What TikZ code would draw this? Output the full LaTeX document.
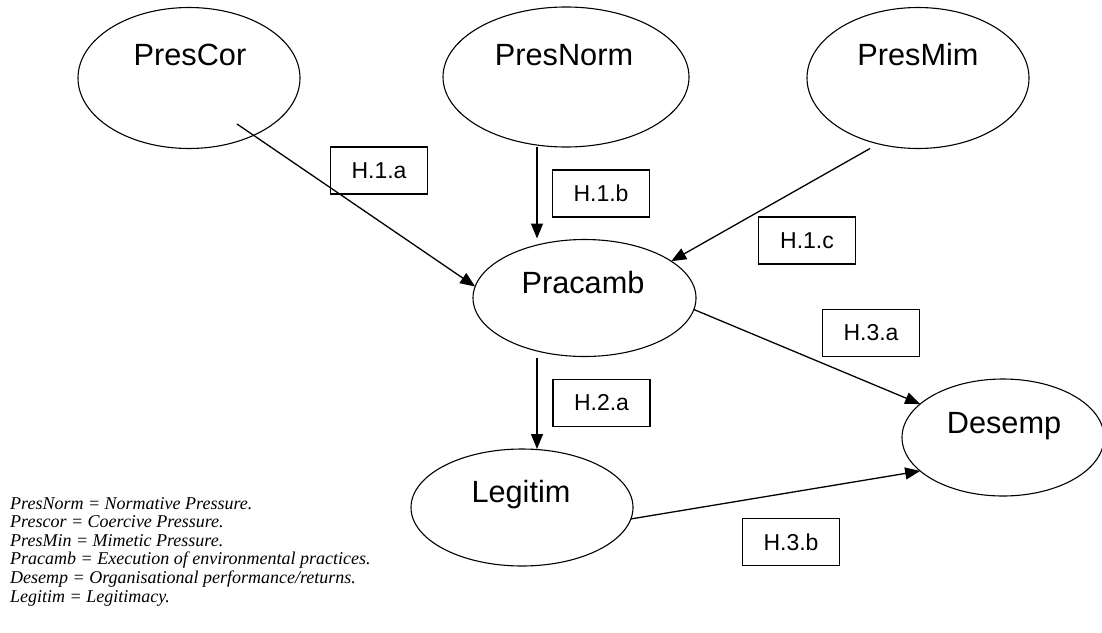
\documentclass[tikz,border=0pt]{standalone}
\usepackage{fontspec}
\setmainfont{Liberation Sans}
\newfontfamily\legfont{Liberation Serif}
\usetikzlibrary{arrows.meta,calc,shapes.geometric}
\begin{document}
\begin{tikzpicture}[x=1pt,y=-1pt,
  var/.style={draw, ellipse, line width=1.1pt, inner sep=0pt, outer sep=0pt},
  vname/.style={anchor=base, inner sep=0pt, font=\fontsize{30.7}{36}\selectfont},
  hbox/.style={draw, line width=1.4pt, inner sep=0pt, outer sep=0pt, minimum width=97pt, minimum height=47pt, font=\fontsize{23}{27}\selectfont},
  arr/.style={line width=1.3pt, -{Triangle[length=15pt,width=12pt]}},
  leg/.style={anchor=base west, inner sep=0pt, font=\legfont\itshape\fontsize{18}{18}\selectfont}
]
\fill[white] (0,0) rectangle (1102,632);
\useasboundingbox (0,0) rectangle (1102,632);

% variables
\node[var, minimum width=222pt, minimum height=141pt] (prescor) at (189,78) {};
\node[var, minimum width=246pt, minimum height=140pt] (presnorm) at (566,77) {};
\node[var, minimum width=222pt, minimum height=141pt] (presmim) at (918,78) {};
\node[var, minimum width=223pt, minimum height=117pt] (pracamb) at (584.5,298) {};
\node[var, minimum width=222pt, minimum height=117pt] (legitim) at (522,507.5) {};
\node[var, minimum width=202pt, minimum height=117pt] (desemp) at (1003,437.5) {};

\node[vname] (prescor-t) at (190,65) {PresCor};
\node[vname] (presnorm-t) at (564,65) {PresNorm};
\node[vname] (presmim-t) at (918,65) {PresMim};
\node[vname] (pracamb-t) at (583,293) {Pracamb};
\node[vname] (legitim-t) at (521,502) {Legitim};
\node[vname] (desemp-t) at (1004,433) {Desemp};

% hypothesis boxes
\node[hbox] (h1a) at (379,170.5) {H.1.a};
\node[hbox] (h1b) at (601,193.5) {H.1.b};
\node[hbox] (h1c) at (807,240.5) {H.1.c};
\node[hbox] (h2a) at (601.5,403) {H.2.a};
\node[hbox] (h3a) at (871,333) {H.3.a};
\node[hbox] (h3b) at (791,542) {H.3.b};

% connectors
\coordinate (c1) at (237,124);
\draw[arr] (c1) -- (pracamb.174);
\draw[arr] ($(presnorm.south)+(-29,0)$) -- ($(pracamb.north)+(-47.5,-1)$);
\draw[arr] ($(presmim.south)+(-48,0)$) -- (pracamb.23);
\draw[arr] ($(pracamb.south)+(-47.5,1)$) -- ($(legitim.north)+(15,0)$);
\draw[arr] (pracamb.-6) -- (desemp.158);
\draw[arr] (legitim.-6) -- (desemp.202);

% legend
\node[leg] (leg1) at (10,509) {PresNorm = Normative Pressure.};
\node[leg] (leg2) at (10,527.6) {Prescor = Coercive Pressure.};
\node[leg] (leg3) at (10,546.2) {PresMin = Mimetic Pressure.};
\node[leg] (leg4) at (10,564.8) {Pracamb = Execution of environmental practices.};
\node[leg] (leg5) at (10,583.4) {Desemp = Organisational performance/returns.};
\node[leg] (leg6) at (10,602) {Legitim = Legitimacy.};
\end{tikzpicture}
\end{document}
